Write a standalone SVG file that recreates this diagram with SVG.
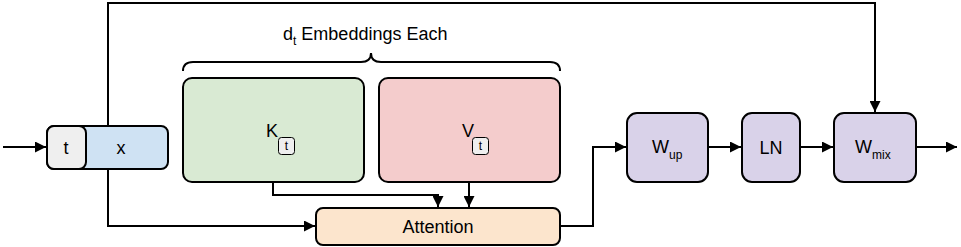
<svg xmlns="http://www.w3.org/2000/svg" width="961" height="247" viewBox="0 0 961 247">
<style>
.n{stroke:#000;stroke-width:2}
.c{fill:none;stroke:#000;stroke-width:2}
text{font-family:"Liberation Sans",Arial,sans-serif;font-size:18px;fill:#000}
.s{font-size:12px}
.m{text-anchor:middle;dominant-baseline:central}
</style>
<defs>
<marker id="a" viewBox="0 0 10 10" refX="10" refY="5" markerWidth="5.5" markerHeight="5.5" orient="auto" markerUnits="strokeWidth">
<path d="M0,0L10,5L0,10z" fill="#000"/>
</marker>
</defs>
<g id="connectors">
<path class="c" d="M3,147H46" marker-end="url(#a)"/>
<path class="c" d="M108,126V3H875V112" marker-end="url(#a)"/>
<path class="c" d="M108,169V226H315" marker-end="url(#a)"/>
<path class="c" d="M273,182V195H438V207" marker-end="url(#a)"/>
<path class="c" d="M469,182V207" marker-end="url(#a)"/>
<path class="c" d="M560,226H593V147H626" marker-end="url(#a)"/>
<path class="c" d="M708,147H741" marker-end="url(#a)"/>
<path class="c" d="M800,147H833" marker-end="url(#a)"/>
<path class="c" d="M916,147H957" marker-end="url(#a)"/>
<path class="c" d="M183,71Q183,62 193,62H361Q371,62 371,53Q371,62 381,62H550Q560,62 560,71"/>
</g>
<g id="label-dt">
<text x="283" y="40">d<tspan class="s" dy="5">t</tspan><tspan dy="-5"> Embeddings Each</tspan></text>
</g>
<g id="node-x">
<rect class="n" x="47" y="126" width="121" height="43" rx="7" fill="#cfe2f3"/>
<text class="m" x="121" y="148">x</text>
</g>
<g id="node-t">
<rect class="n" x="47" y="126" width="39" height="43" rx="7" fill="#efefef"/>
<text class="m" x="66" y="148">t</text>
</g>
<g id="node-K">
<rect class="n" x="183" y="78" width="181" height="104" rx="9" fill="#d9ead3"/>
<text x="266" y="137">K</text>
<rect x="278.5" y="137.5" width="16" height="17" rx="3" fill="#efefef" stroke="#000" stroke-width="1"/>
<text class="m s" x="286.5" y="146">t</text>
</g>
<g id="node-V">
<rect class="n" x="379" y="78" width="181" height="104" rx="9" fill="#f4cccc"/>
<text x="462" y="137">V</text>
<rect x="472.5" y="137.5" width="16" height="17" rx="3" fill="#efefef" stroke="#000" stroke-width="1"/>
<text class="m s" x="480.5" y="146">t</text>
</g>
<g id="node-attention">
<rect class="n" x="316" y="208" width="244" height="37" rx="7" fill="#fce5cd"/>
<text class="m" x="438" y="227">Attention</text>
</g>
<g id="node-Wup">
<rect class="n" x="627" y="113" width="81" height="69" rx="10" fill="#d9d2e9"/>
<text x="652" y="153">W<tspan class="s" dy="6">up</tspan></text>
</g>
<g id="node-LN">
<rect class="n" x="742" y="113" width="58" height="69" rx="10" fill="#d9d2e9"/>
<text class="m" x="771" y="148">LN</text>
</g>
<g id="node-Wmix">
<rect class="n" x="834" y="113" width="82" height="69" rx="10" fill="#d9d2e9"/>
<text x="855" y="153">W<tspan class="s" dy="6">mix</tspan></text>
</g>
</svg>
